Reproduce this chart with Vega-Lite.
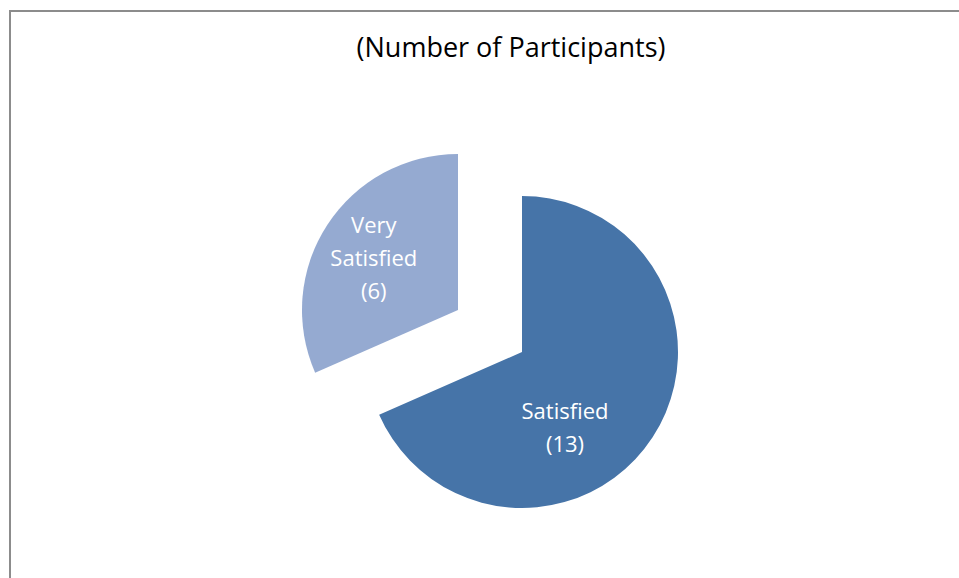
{
  "$schema": "https://vega.github.io/schema/vega-lite/v6.json",
  "autosize": "none",
  "width": 1024,
  "height": 682,
  "padding": {"left": 10, "top": 11, "right": 0, "bottom": 0},
  "background": "white",
  "title": {"text": "(Number of Participants)", "font": "Open Sans", "fontSize": 27, "fontWeight": "normal", "color": "black", "anchor": "middle", "dx": -11, "offset": -53},
  "config": {"view": {"stroke": null}},
  "data": {"values": [
    {"label": "Satisfied", "count": 13, "text": "Satisfied\n(13)"},
    {"label": "Very Satisfied", "count": 6, "text": "Very\nSatisfied\n(6)"}
  ]},
  "layer": [
    {
      "mark": {"type": "rect", "fill": null, "stroke": "#8c8c8c", "strokeWidth": 2},
      "encoding": {}
    },
    {
      "mark": {"type": "arc", "radius": 156},
      "encoding": {
        "theta": {"field": "count", "type": "quantitative", "stack": true},
        "color": {"field": "label", "type": "nominal", "scale": {"domain": ["Satisfied", "Very Satisfied"], "range": ["#4674A8", "#95AAD1"]}, "legend": null},
        "fillOpacity": {"condition": {"test": "datum.label === 'Satisfied'", "value": 1}, "value": 0}
      }
    },
    {
      "mark": {"type": "arc", "radius": 156, "xOffset": -64, "yOffset": -42},
      "encoding": {
        "theta": {"field": "count", "type": "quantitative", "stack": true},
        "color": {"field": "label", "type": "nominal", "legend": null},
        "fillOpacity": {"condition": {"test": "datum.label === 'Very Satisfied'", "value": 1}, "value": 0}
      }
    },
    {
      "mark": {"type": "text", "radius": 86, "dx": -29, "dy": 13, "font": "Open Sans", "fontSize": 22, "lineBreak": "\n", "lineHeight": 33, "baseline": "middle", "align": "center"},
      "encoding": {
        "theta": {"field": "count", "type": "quantitative", "stack": true},
        "detail": {"field": "label", "type": "nominal"},
        "fill": {"value": "white"},
        "text": {"condition": {"test": "datum.label === 'Satisfied'", "field": "text"}, "value": ""}
      }
    },
    {
      "mark": {"type": "text", "radius": 177, "dy": -29, "font": "Open Sans", "fontSize": 22, "lineBreak": "\n", "lineHeight": 33, "baseline": "middle", "align": "center"},
      "encoding": {
        "theta": {"field": "count", "type": "quantitative", "stack": true},
        "detail": {"field": "label", "type": "nominal"},
        "fill": {"value": "white"},
        "text": {"condition": {"test": "datum.label === 'Very Satisfied'", "field": "text"}, "value": ""}
      }
    }
  ]
}
